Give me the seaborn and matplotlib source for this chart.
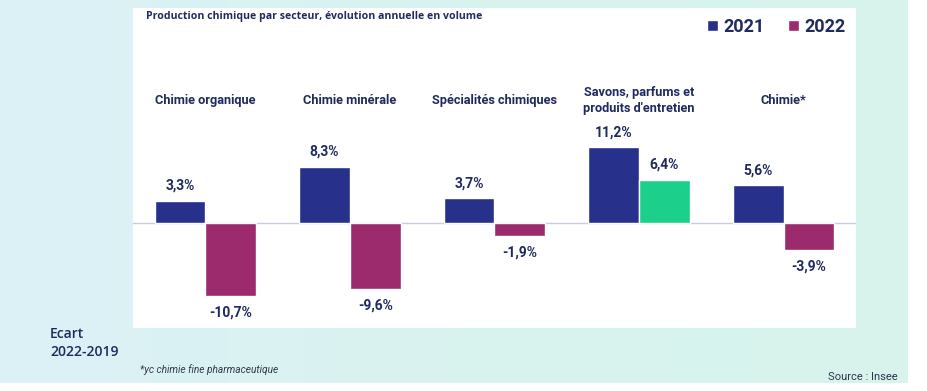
import numpy as np
import pandas as pd
import seaborn as sns
import matplotlib.pyplot as plt
from matplotlib.colors import LinearSegmentedColormap

sns.set_style('white')
plt.rcParams['font.family'] = ['Roboto', 'DejaVu Sans']

# data
sectors = ['Chimie organique', 'Chimie minérale', 'Spécialités chimiques',
           'Savons, parfums et\nproduits d\'entretien', 'Chimie*']
val_2021 = [3.3, 8.3, 3.7, 11.2, 5.6]
val_2022 = [-10.7, -9.6, -1.9, 6.4, -3.9]
years = ['2021', '2022']

df = pd.DataFrame({
    'secteur': sectors * 2,
    'annee': [years[0]] * 5 + [years[1]] * 5,
    'valeur': val_2021 + val_2022,
})

navy = '#27318b'
plum = '#9b2b6c'
green = '#1ccf8a'
txt = '#1f2a5e'

fig = plt.figure(figsize=(9.28, 3.91), dpi=100)
fig.patch.set_facecolor('white')

# background band (light cyan, slightly greener on the right)
bg = fig.add_axes([0, 8 / 391, 908 / 928, 383 / 391])
grad = np.linspace(0, 1, 256).reshape(1, -1)
cm = LinearSegmentedColormap.from_list('bg', ['#dcf1f7', '#d9f3ef', '#d7f4ec'])
bg.imshow(grad, aspect='auto', cmap=cm, extent=[0, 1, 0, 1])
bg.set_axis_off()
bg.set_zorder(0)

ax = fig.add_axes([133 / 928, (391 - 328) / 391, (856 - 133) / 928, (328 - 8) / 391])
ax.set_zorder(1)
ax.set_facecolor('white')

sns.barplot(data=df, x='secteur', y='valeur', hue='annee',
            palette=[navy, plum], width=0.7, ax=ax, saturation=1)

# the 2022 bar of "Savons" is highlighted in green
ax.containers[1][3].set_facecolor(green)

ax.set_ylim(-15.4, 31.6)
ax.set_xlim(-0.5, 4.5)
ax.axhline(0, color='#c9cce0', lw=1, zorder=0)
ax.set_xticks([])
ax.set_yticks([])
ax.set_xlabel('')
ax.set_ylabel('')
sns.despine(ax=ax, left=True, bottom=True)

for cont in ax.containers:
    for bar in cont:
        h = bar.get_height()
        x = bar.get_x() + bar.get_width() / 2
        lab = f'{h:.1f}%'.replace('.', ',')
        if h >= 0:
            ax.annotate(lab, (x, h), xytext=(0, 5.5), textcoords='offset points',
                        ha='center', va='bottom', fontsize=10, fontweight='bold', color=txt)
        else:
            ax.annotate(lab, (x, h), xytext=(0, -7), textcoords='offset points',
                        ha='center', va='top', fontsize=10, fontweight='bold', color=txt)

for i, s in enumerate(sectors):
    ax.text(i, 18.0, s, ha='center', va='center', fontsize=9.2,
            fontweight='bold', color=txt, linespacing=1.3)

h, l = ax.get_legend_handles_labels()
ax.legend(h, l, loc='upper right', bbox_to_anchor=(1.008, 1.02), ncol=2, frameon=False,
          prop={'family': 'Roboto', 'weight': 'bold', 'size': 13},
          labelcolor=txt, handlelength=0.6, handleheight=0.6,
          handletextpad=0.3, columnspacing=1.3)

fig.text(146 / 928, 1 - 17 / 391, 'Production chimique par secteur, évolution annuelle en volume',
         ha='left', va='center', fontsize=7.6, fontweight='bold', color=txt,
         family=['Open Sans', 'DejaVu Sans'])
fig.text(50 / 928, 1 - 343 / 391, 'Ecart\n2022-2019', ha='left', va='center',
         fontsize=10, fontweight='semibold', color=txt, linespacing=1.3,
         family=['Open Sans', 'DejaVu Sans'])
fig.text(140 / 928, 1 - 370 / 391, '*yc chimie fine pharmaceutique', ha='left', va='center',
         fontsize=7.3, style='italic', color='#333a4a')
fig.text(898 / 928, 1 - 377 / 391, 'Source : Insee', ha='right', va='center',
         fontsize=8, color='#2c3550')

fig.savefig('out.png', dpi=100, facecolor=fig.get_facecolor())
